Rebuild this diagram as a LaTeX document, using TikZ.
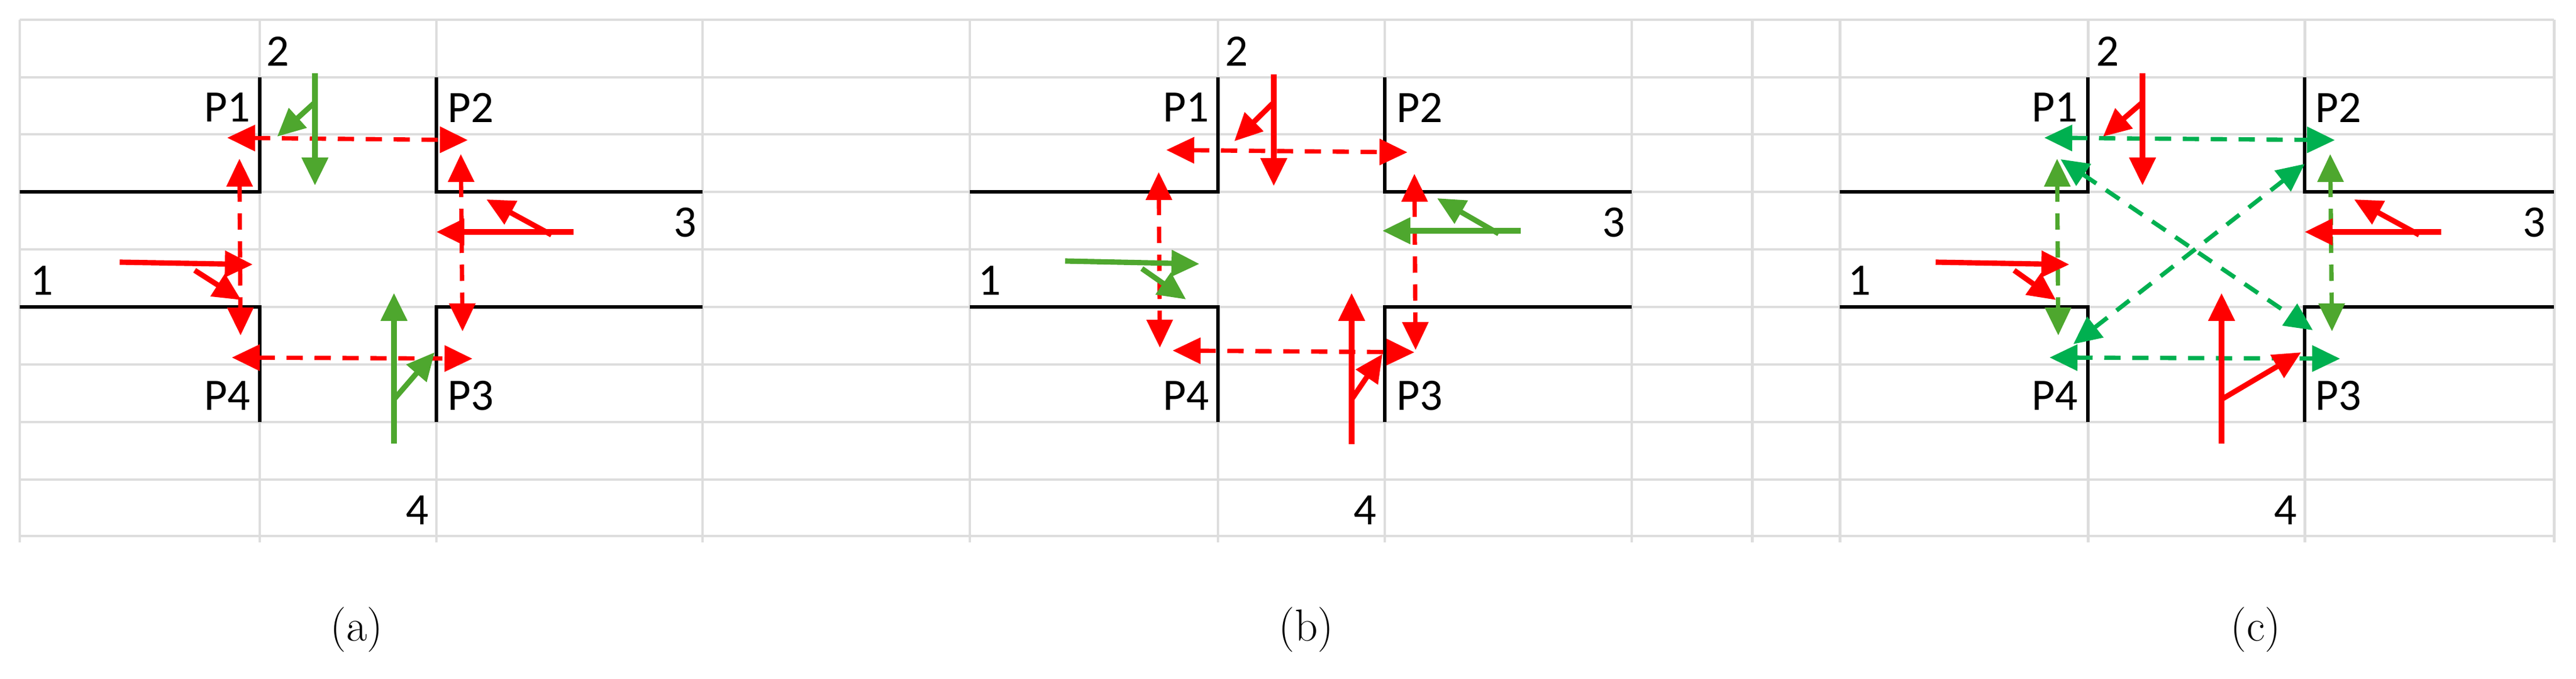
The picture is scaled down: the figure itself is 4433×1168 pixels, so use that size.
\documentclass[tikz,border=0pt]{standalone}
\usepackage{fontspec}
\newfontfamily\carl{Carlito}
\usetikzlibrary{arrows.meta}
\definecolor{gridc}{HTML}{DDDDDD}
\definecolor{rd}{HTML}{FF0000}
\definecolor{gn}{HTML}{4EA72E}
\definecolor{bg}{HTML}{00B050}
\tikzset{
  road/.style={line width=1.5pt,black},
  mv/.style={line width=2.6pt,-{Triangle[length=0.48cm,width=0.44cm]}},
  ped/.style={line width=2.1pt,dash pattern=on 0.28cm off 0.2cm,{Triangle[length=0.48cm,width=0.44cm]}-{Triangle[length=0.48cm,width=0.44cm]}},
  lbl/.style={font=\carl\fontsize{22}{22}\selectfont,inner sep=0pt},
  captext/.style={font=\fontsize{22}{22}\selectfont,inner sep=0pt}
}
\begin{document}
\begin{tikzpicture}[x=0.01cm,y=-0.01cm]
\useasboundingbox (0,0) rectangle (4433,1168);
% grid
\foreach \yy in {34,133,231,330,429,528,627,726,825,922}
  \draw[gridc,line width=1.4pt] (34,\yy) -- (4395,\yy);
\foreach \xx in {34,447,751,1209,1669,2096,2383,2808,3015,3166,3593,3966,4395}
  \draw[gridc,line width=1.4pt] (\xx,34) -- (\xx,933);
% roads
\foreach \L/\A/\B/\R in {34/447/751/1209,1669/2096/2383/2808,3166/3593/3966/4395}{
  \draw[road] (\L,330) -- (\A,330) -- (\A,133);
  \draw[road] (\L,528) -- (\A,528) -- (\A,726);
  \draw[road] (\R,330) -- (\B,330) -- (\B,133);
  \draw[road] (\R,528) -- (\B,528) -- (\B,726);
}
% ---------- panel a ----------
\node[lbl,anchor=east] (a1) at (431,185) {P1};
\node[lbl,anchor=west] (a2) at (770,185) {P2};
\node[lbl,anchor=east] (a4) at (431,681) {P4};
\node[lbl,anchor=west] (a3) at (770,681) {P3};
\node[lbl] (an2) at (478,88) {2};
\node[lbl] (an4) at (718,878) {4};
\node[lbl] (an1) at (72,483) {1};
\node[lbl] (an3) at (1179,383) {3};
\draw[ped,rd] (391,237) -- (805,241);
\draw[ped,rd] (412,273) -- (414,577);
\draw[ped,rd] (793,265) -- (796,570);
\draw[ped,rd] (399,615) -- (813,617);
\draw[mv,gn] (542,126) -- (542,319);
\draw[mv,gn] (542,176) -- (477,235);
\draw[mv,rd] (206,451) -- (435,455);
\draw[mv,rd] (335,465) -- (415,516);
\draw[mv,rd] (987,399) -- (751,399);
\draw[mv,rd] (949,404) -- (837,343);
\draw[mv,gn] (678,763) -- (678,504);
\draw[mv,gn] (678,687) -- (748,606);
% ---------- panel b ----------
\node[lbl,anchor=east] (b1) at (2081,185) {P1};
\node[lbl,anchor=west] (b2) at (2403,185) {P2};
\node[lbl,anchor=east] (b4) at (2081,681) {P4};
\node[lbl,anchor=west] (b3) at (2403,681) {P3};
\node[lbl] (bn2) at (2128,88) {2};
\node[lbl] (bn4) at (2349,878) {4};
\node[lbl] (bn1) at (1703,483) {1};
\node[lbl] (bn3) at (2777,383) {3};
\draw[ped,rd] (2007,258) -- (2422,262);
\draw[ped,rd] (1994,296) -- (1996,598);
\draw[ped,rd] (2434,299) -- (2436,602);
\draw[ped,rd] (2018,603) -- (2434,606);
\draw[mv,rd] (2192,128) -- (2192,320);
\draw[mv,rd] (2192,176) -- (2124,243);
\draw[mv,gn] (1833,449) -- (2064,454);
\draw[mv,gn] (1965,462) -- (2041,515);
\draw[mv,gn] (2617,397) -- (2379,397);
\draw[mv,gn] (2579,402) -- (2473,341);
\draw[mv,rd] (2326,764) -- (2326,504);
\draw[mv,rd] (2326,687) -- (2379,609);
% ---------- panel c ----------
\node[lbl,anchor=east] (c1) at (3576,185) {P1};
\node[lbl,anchor=west] (c2) at (3984,185) {P2};
\node[lbl,anchor=east] (c4) at (3576,681) {P4};
\node[lbl,anchor=west] (c3) at (3984,681) {P3};
\node[lbl] (cn2) at (3627,88) {2};
\node[lbl] (cn4) at (3933,878) {4};
\node[lbl] (cn1) at (3200,483) {1};
\node[lbl] (cn3) at (4361,383) {3};
\draw[ped,bg] (3518,237) -- (4018,241);
\draw[ped,bg] (3527,615) -- (4027,617);
\draw[ped,gn] (3540,273) -- (3542,577);
\draw[ped,gn] (4010,265) -- (4013,570);
\draw[ped,bg] (3546,274) -- (3980,568);
\draw[ped,bg] (3568,592) -- (3966,282);
\draw[mv,rd] (3687,126) -- (3687,319);
\draw[mv,rd] (3687,176) -- (3619,235);
\draw[mv,rd] (3331,451) -- (3561,455);
\draw[mv,rd] (3466,465) -- (3538,516);
\draw[mv,rd] (4201,399) -- (3966,399);
\draw[mv,rd] (4163,404) -- (4051,343);
\draw[mv,rd] (3823,763) -- (3823,504);
\draw[mv,rd] (3823,687) -- (3960,606);
% captions
\node[captext] (ca) at (614,1083) {(a)};
\node[captext] (cb) at (2248,1083) {(b)};
\node[captext] (cc) at (3882,1083) {(c)};
\end{tikzpicture}
\end{document}
